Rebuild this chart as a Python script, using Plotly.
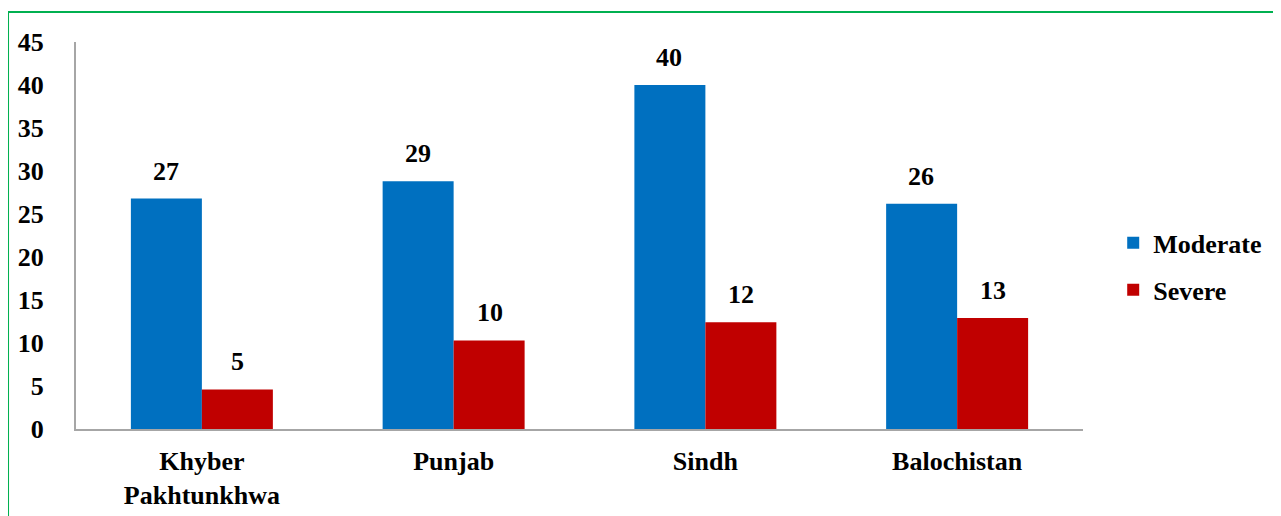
import plotly.graph_objects as go

provinces = ["Khyber<br>Pakhtunkhwa", "Punjab", "Sindh", "Balochistan"]
moderate = [26.8, 28.8, 40.0, 26.2]
severe = [4.6, 10.3, 12.4, 12.9]
moderate_labels = ["27", "29", "40", "26"]
severe_labels = ["5", "10", "12", "13"]

BLUE = "#0070C0"
RED = "#C00000"
FONT = "'Liberation Serif', 'Times New Roman', serif"

def f(size=26):
    return dict(family=FONT, size=size, color="black", weight="bold")

fig = go.Figure()
fig.add_trace(go.Bar(name="Moderate", x=provinces, y=moderate, marker_color=BLUE,
                     marker_line_width=0, legendgroup="m"))
fig.add_trace(go.Bar(name="Severe", x=provinces, y=severe, marker_color=RED,
                     marker_line_width=0, legendgroup="s"))

for i, p in enumerate(provinces):
    fig.add_annotation(x=p, y=moderate[i], text=moderate_labels[i], showarrow=False,
                       xshift=-36, yshift=11, yanchor="bottom", font=f())
    fig.add_annotation(x=p, y=severe[i], text=severe_labels[i], showarrow=False,
                       xshift=36, yshift=11, yanchor="bottom", font=f())

fig.add_shape(type="rect", xref="paper", yref="paper",
              x0=-0.0675, x1=1.5, y0=-0.5, y1=1.0775,
              line=dict(color="#00B050", width=2), fillcolor="rgba(0,0,0,0)", layer="below")

fig.update_layout(
    width=1273, height=508,
    margin=dict(l=68, r=198, t=34, b=87, autoexpand=False),
    paper_bgcolor="white", plot_bgcolor="white",
    barmode="group", bargap=0.436, bargroupgap=0,
    font=f(),
    legend=dict(x=1.03, y=0.42, xanchor="left", yanchor="middle",
                font=f(), itemsizing="constant", tracegroupgap=10, itemwidth=30,
                traceorder="grouped"),
    showlegend=True,
)
fig.update_xaxes(showline=True, linecolor="#A6A6A6", linewidth=2, showgrid=False,
                 ticks="", tickfont=f(), ticklabelstandoff=8, automargin=False)
fig.update_yaxes(range=[0, 45], dtick=5, showline=True, linecolor="#A6A6A6", linewidth=2,
                 showgrid=False, zeroline=False, ticks="", tickfont=f(),
                 ticklabelstandoff=25, automargin=False)

fig.write_html("out.html")
